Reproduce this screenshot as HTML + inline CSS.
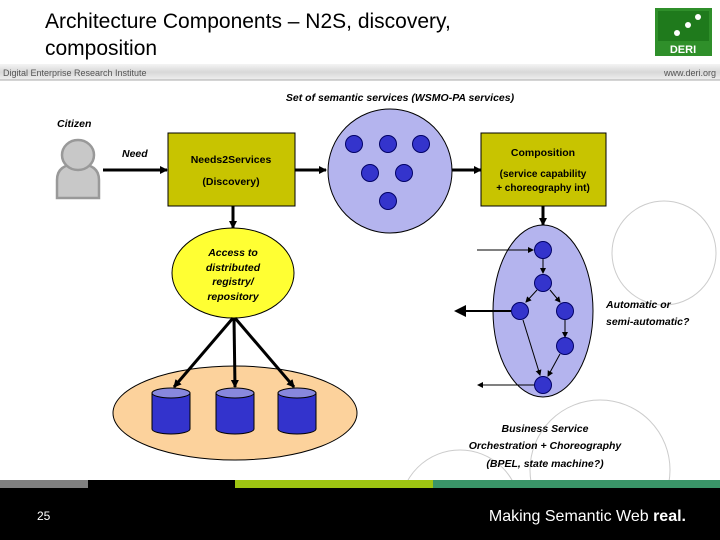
<!DOCTYPE html>
<html><head><meta charset="utf-8"><style>
html,body{margin:0;padding:0;background:#fff;width:720px;height:540px;overflow:hidden}
svg{display:block}
text{font-family:"Liberation Sans",Arial,sans-serif}
</style></head><body>
<svg width="720" height="540" viewBox="0 0 720 540" xmlns="http://www.w3.org/2000/svg">
<defs>
<marker id="a" markerWidth="6" markerHeight="6" refX="5" refY="3" orient="auto" markerUnits="strokeWidth"><path d="M0,0 L6,3 L0,6 z" fill="#000"/></marker>
<marker id="b" markerWidth="8" markerHeight="8" refX="7" refY="4" orient="auto" markerUnits="userSpaceOnUse"><path d="M0,0 L8,4 L0,8 z" fill="#000"/></marker>
<linearGradient id="g" x1="0" y1="0" x2="0" y2="1"><stop offset="0" stop-color="#f4f4f4"/><stop offset="0.5" stop-color="#d8d8d8"/><stop offset="1" stop-color="#f0f0f0"/></linearGradient>
</defs>
<rect width="720" height="540" fill="#fff"/>
<text x="45" y="28" font-size="21">Architecture Components – N2S, discovery,</text>
<text x="45" y="55" font-size="21">composition</text>
<rect x="0" y="64" width="720" height="16" fill="url(#g)"/>
<line x1="0" y1="80" x2="720" y2="80" stroke="#aaa"/>
<text x="3" y="76" font-size="9" fill="#555">Digital Enterprise Research Institute</text>
<text x="716" y="76" font-size="9" fill="#555" text-anchor="end">www.deri.org</text>
<rect x="655" y="8" width="57" height="48" fill="#2f8f2a"/>
<rect x="658" y="11" width="51" height="30" fill="#1f7a1c"/>
<circle cx="698" cy="17" r="3" fill="#fff"/><circle cx="688" cy="25" r="3" fill="#fff"/><circle cx="677" cy="33" r="3" fill="#fff"/>
<text x="683" y="53" font-size="11" fill="#fff" text-anchor="middle" font-weight="bold">DERI</text>

<g fill="none" stroke="#ccc" stroke-width="1">
<circle cx="664" cy="253" r="52"/>
<circle cx="600" cy="470" r="70"/>
<circle cx="460" cy="510" r="60"/>
</g>

<text x="400" y="101" font-size="10.5" font-style="italic" font-weight="bold" text-anchor="middle">Set of semantic services (WSMO-PA services)</text>
<text x="57" y="127" font-size="10.5" font-style="italic" font-weight="bold">Citizen</text>
<g fill="#c8c8c8" stroke="#999" stroke-width="2.5">
<path d="M57,198 L57,180 Q57,164 78,164 Q99,164 99,180 L99,198 Z"/>
<ellipse cx="78" cy="155" rx="16" ry="15"/>
</g>
<text x="122" y="157" font-size="10.5" font-style="italic" font-weight="bold">Need</text>
<line x1="103" y1="170" x2="167" y2="170" stroke="#000" stroke-width="3" marker-end="url(#b)"/>
<rect x="168" y="133" width="127" height="73" fill="#c8c400" stroke="#000" stroke-width="1"/>
<text x="231" y="163" font-size="10.5" font-weight="bold" text-anchor="middle">Needs2Services</text>
<text x="231" y="185" font-size="10.5" font-weight="bold" text-anchor="middle">(Discovery)</text>
<line x1="295" y1="170" x2="326" y2="170" stroke="#000" stroke-width="3" marker-end="url(#b)"/>
<circle cx="390" cy="171" r="62" fill="#b4b4ee" stroke="#000" stroke-width="1"/>
<g fill="#3434cc" stroke="#000066" stroke-width="1">
<circle cx="354" cy="144" r="8.5"/><circle cx="388" cy="144" r="8.5"/><circle cx="421" cy="144" r="8.5"/>
<circle cx="370" cy="173" r="8.5"/><circle cx="404" cy="173" r="8.5"/><circle cx="388" cy="201" r="8.5"/>
</g>
<line x1="452" y1="170" x2="481" y2="170" stroke="#000" stroke-width="3" marker-end="url(#b)"/>
<rect x="481" y="133" width="125" height="73" fill="#c8c400" stroke="#000" stroke-width="1"/>
<text x="543" y="156" font-size="10.5" font-weight="bold" text-anchor="middle">Composition</text>
<text x="543" y="177" font-size="10" font-weight="bold" text-anchor="middle">(service capability</text>
<text x="543" y="191" font-size="10" font-weight="bold" text-anchor="middle">+ choreography int)</text>

<line x1="233" y1="206" x2="233" y2="228" stroke="#000" stroke-width="3" marker-end="url(#b)"/>
<ellipse cx="233" cy="273" rx="61" ry="45" fill="#ffff33" stroke="#000" stroke-width="1"/>
<g font-size="10.5" font-style="italic" font-weight="bold" text-anchor="middle">
<text x="233" y="256">Access to</text><text x="233" y="271">distributed</text><text x="233" y="285">registry/</text><text x="233" y="300">repository</text>
</g>
<ellipse cx="235" cy="413" rx="122" ry="47" fill="#fcd29c" stroke="#000" stroke-width="1"/>
<g stroke="#000" stroke-width="3">
<line x1="233" y1="318" x2="174" y2="387" marker-end="url(#b)"/>
<line x1="234" y1="318" x2="235" y2="387" marker-end="url(#b)"/>
<line x1="235" y1="318" x2="294" y2="387" marker-end="url(#b)"/>
</g>
<g stroke="#000" stroke-width="1">
<path d="M152,393 L152,429 A19,5 0 0 0 190,429 L190,393 Z" fill="#3333cc"/>
<ellipse cx="171" cy="393" rx="19" ry="5" fill="#8888dd"/>
<path d="M216,393 L216,429 A19,5 0 0 0 254,429 L254,393 Z" fill="#3333cc"/>
<ellipse cx="235" cy="393" rx="19" ry="5" fill="#8888dd"/>
<path d="M278,393 L278,429 A19,5 0 0 0 316,429 L316,393 Z" fill="#3333cc"/>
<ellipse cx="297" cy="393" rx="19" ry="5" fill="#8888dd"/>
</g>

<line x1="543" y1="206" x2="543" y2="225" stroke="#000" stroke-width="3" marker-end="url(#b)"/>
<ellipse cx="543" cy="311" rx="50" ry="86" fill="#b4b4ee" stroke="#000" stroke-width="1"/>
<g stroke="#000" stroke-width="1" fill="none">
<line x1="477" y1="250" x2="533" y2="250" marker-end="url(#a)"/>
<line x1="543" y1="259" x2="543" y2="273" marker-end="url(#a)"/>
<line x1="537" y1="290" x2="526" y2="302" marker-end="url(#a)"/>
<line x1="550" y1="290" x2="560" y2="302" marker-end="url(#a)"/>
<line x1="565" y1="320" x2="565" y2="337" marker-end="url(#a)"/>
<line x1="523" y1="320" x2="540" y2="375" marker-end="url(#a)"/>
<line x1="560" y1="354" x2="548" y2="376" marker-end="url(#a)"/>
<line x1="511" y1="311" x2="456" y2="311" stroke-width="2" marker-end="url(#a)"/>
<line x1="534" y1="385" x2="478" y2="385" marker-end="url(#a)"/>
</g>
<g fill="#3434cc" stroke="#000066" stroke-width="1">
<circle cx="543" cy="250" r="8.5"/><circle cx="543" cy="283" r="8.5"/><circle cx="520" cy="311" r="8.5"/>
<circle cx="565" cy="311" r="8.5"/><circle cx="565" cy="346" r="8.5"/><circle cx="543" cy="385" r="8.5"/>
</g>
<g font-size="10.5" font-style="italic" font-weight="bold">
<text x="606" y="308">Automatic or</text><text x="606" y="325">semi-automatic?</text>
</g>
<g font-size="10.5" font-style="italic" font-weight="bold" text-anchor="middle">
<text x="545" y="432">Business Service</text><text x="545" y="449">Orchestration + Choreography</text><text x="545" y="467">(BPEL, state machine?)</text>
</g>

<rect x="0" y="480" width="720" height="60" fill="#000"/>
<rect x="0" y="480" width="88" height="8" fill="#808080"/>
<rect x="235" y="480" width="198" height="8" fill="#9ec412"/>
<rect x="433" y="480" width="287" height="8" fill="#3a9468"/>
<text x="37" y="520" font-size="12" fill="#fff">25</text>
<text x="686" y="521" font-size="16" fill="#fff" text-anchor="end">Making Semantic Web <tspan font-weight="bold">real.</tspan></text>
</svg>
</body></html>
